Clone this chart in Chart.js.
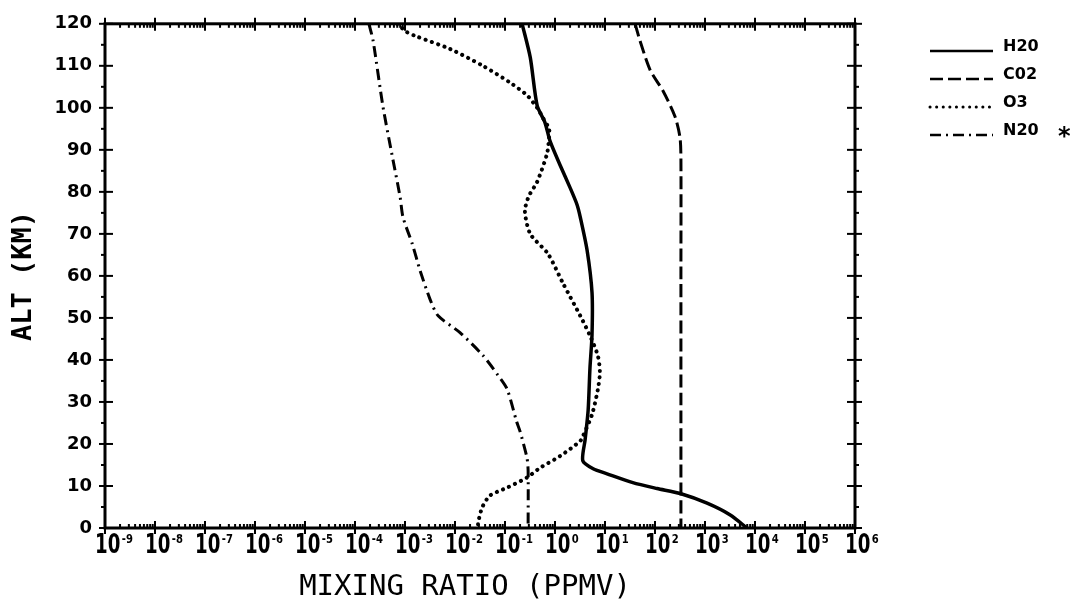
<!DOCTYPE html>
<html>
<head>
<meta charset="utf-8">
<script src="https://cdn.jsdelivr.net/npm/chart.js@4.4.0/dist/chart.umd.min.js"></script>
<style>
html,body{margin:0;padding:0;background:#fff;}
#wrap{width:1080px;height:606px;}
</style>
</head>
<body>
<div id="wrap"><canvas id="profileChart" width="1080" height="606"></canvas></div>
<script>
// altitude (km) and mixing ratio (ppmv)
var altH2O = [120, 112, 100.5, 96.5, 92, 86.4, 81, 77, 74, 66, 56, 46, 38, 28, 21, 16, 14.1, 12.9, 10.8, 9.4, 8.2, 5.9, 3.1, 0];
var h2o    = [0.22, 0.32, 0.44, 0.63, 0.8, 1.26, 2.0, 2.75, 3.2, 4.4, 5.5, 5.5, 5.0, 4.6, 4.0, 3.6, 5.8, 11, 36, 110, 320, 1100, 3200, 6900];

var altCO2 = [120, 116, 109, 104, 98, 93, 88, 60, 30, 10, 0];
var co2    = [40, 50, 80, 145, 250, 316, 330, 330, 330, 330, 330];

var altO3 = [120, 118, 117, 114, 110, 106, 103, 100, 97.5, 95, 92.8, 89, 82.4, 79, 75.4, 70, 65.3, 58.2, 50.5, 45.8, 41, 37, 33, 27, 21.8, 20.7, 17.1, 14.3, 12, 9.6, 7.7, 4.9, 1.2, 0];
var o3    = [0.0007, 0.0011, 0.0017, 0.008, 0.036, 0.126, 0.275, 0.44, 0.58, 0.76, 0.76, 0.69, 0.44, 0.3, 0.25, 0.32, 0.72, 1.45, 3.2, 5.0, 7.2, 7.9, 7.2, 5.5, 3.6, 3.2, 1.26, 0.5, 0.275, 0.11, 0.05, 0.035, 0.029, 0.029];

var altN2O = [120, 116, 100.5, 88.8, 78.7, 74, 67.6, 61.3, 54.3, 50.5, 46.5, 41.1, 36.4, 33.1, 25.4, 23, 16.7, 13.6, 0];
var n2o    = [0.00019, 0.00023, 0.00036, 0.00055, 0.0008, 0.00091, 0.0014, 0.002, 0.0032, 0.0046, 0.0126, 0.036, 0.072, 0.11, 0.17, 0.2, 0.275, 0.29, 0.29];

var seriesLabels = ['H20', 'C02', 'O3', 'N20'];
var xExpMin = -9, xExpMax = 6;
var yMin = 0, yMax = 120, yStep = 10;

function toPoints(alts, vals){
	return alts.map(function(a, i){ return {x: vals[i], y: a}; });
}

function drawTick(ctx, x1, y1, x2, y2){
	ctx.beginPath();
	ctx.moveTo(x1, y1);
	ctx.lineTo(x2, y2);
	ctx.stroke();
}

var framePlugin = {
	id: 'plotFrame',
	afterDraw: function(chart){
		var ctx = chart.ctx, area = chart.chartArea;
		var xs = chart.scales.x, ys = chart.scales.y;
		ctx.save();
		ctx.strokeStyle = '#000';
		ctx.fillStyle = '#000';
		ctx.lineWidth = 3;
		ctx.strokeRect(area.left, area.top, area.right - area.left, area.bottom - area.top);

		// log ticks on bottom and top, crossing the frame
		ctx.lineWidth = 2;
		for(var e = xExpMin; e <= xExpMax; e++){
			var px = xs.getPixelForValue(Math.pow(10, e));
			drawTick(ctx, px, area.bottom - 7, px, area.bottom + 6);
			drawTick(ctx, px, area.top - 6, px, area.top + 7);
			if(e < xExpMax){
				for(var m = 2; m <= 9; m++){
					var mx = xs.getPixelForValue(m * Math.pow(10, e));
					drawTick(ctx, mx, area.bottom - 4, mx, area.bottom);
					drawTick(ctx, mx, area.top, mx, area.top + 4);
				}
			}
		}
		// altitude ticks on left and right
		for(var v = yMin; v <= yMax; v += yStep){
			var py = ys.getPixelForValue(v);
			drawTick(ctx, area.left - 6, py, area.left + 8, py);
			drawTick(ctx, area.right - 8, py, area.right + 7, py);
			if(v < yMax){
				var my = ys.getPixelForValue(v + yStep / 2);
				drawTick(ctx, area.left - 4, my, area.left, my);
				drawTick(ctx, area.right, my, area.right + 4, my);
			}
		}

		// x tick labels 10^n
		ctx.textBaseline = 'alphabetic';
		ctx.textAlign = 'left';
		for(var k = xExpMin; k <= xExpMax; k++){
			var lx = xs.getPixelForValue(Math.pow(10, k)) - 10;
			ctx.save();
			ctx.translate(lx, 553);
			ctx.scale(0.7, 1);
			ctx.font = "bold 26px 'DejaVu Sans'";
			ctx.fillText('10', 0, 0);
			var w = ctx.measureText('10').width;
			ctx.font = "bold 13px 'DejaVu Sans'";
			ctx.scale(1.1, 1);
			ctx.fillText(k < 0 ? '-' + Math.abs(k) : String(k), w / 1.1 + 2, -10);
			ctx.restore();
		}

		// x axis title
		ctx.font = "29px 'DejaVu Sans Mono'";
		ctx.textAlign = 'center';
		ctx.textBaseline = 'middle';
		ctx.fillText('MIXING RATIO (PPMV)', 465, 587);

		// legend
		var rowY = [47, 75, 103, 131];
		chart.data.datasets.forEach(function(ds, i){
			var ly = rowY[i] + 4;
			ctx.save();
			ctx.lineWidth = ds.legendWidth;
			ctx.lineCap = ds.borderCapStyle || 'butt';
			ctx.setLineDash(ds.borderDash || []);
			drawTick(ctx, 930, ly, 993, ly);
			ctx.restore();
			ctx.font = "bold 16px 'DejaVu Sans'";
			ctx.textAlign = 'left';
			ctx.textBaseline = 'middle';
			ctx.fillText(ds.label, 1003, rowY[i]);
		});
		ctx.font = "bold 24px 'DejaVu Sans'";
		ctx.textBaseline = 'alphabetic';
		ctx.fillText('*', 1058, 144);
		ctx.restore();
	}
};

var baseLine = {borderColor: '#000', backgroundColor: '#000', pointRadius: 0, showLine: true, fill: false, tension: 0.25};

new Chart(document.getElementById('profileChart'), {
	type: 'scatter',
	data: {
		datasets: [
			Object.assign({}, baseLine, {label: seriesLabels[0], data: toPoints(altH2O, h2o), borderWidth: 3.5, legendWidth: 2.5}),
			Object.assign({}, baseLine, {label: seriesLabels[1], data: toPoints(altCO2, co2), borderWidth: 3, borderDash: [13, 5], legendWidth: 2.5}),
			Object.assign({}, baseLine, {label: seriesLabels[2], data: toPoints(altO3, o3), borderWidth: 4, borderDash: [0.1, 6.5], borderCapStyle: 'round', legendWidth: 3}),
			Object.assign({}, baseLine, {label: seriesLabels[3], data: toPoints(altN2O, n2o), borderWidth: 3, borderDash: [11, 5, 2, 5], legendWidth: 2.5})
		]
	},
	options: {
		responsive: false,
		devicePixelRatio: 1,
		animation: false,
		layout: {padding: {top: 17, right: 225, left: 0, bottom: 0}},
		plugins: {legend: {display: false}, tooltip: {enabled: false}},
		scales: {
			x: {
				type: 'logarithmic',
				min: Math.pow(10, xExpMin),
				max: Math.pow(10, xExpMax),
				grid: {display: false, drawTicks: false},
				border: {display: false},
				ticks: {display: false},
				afterFit: function(scale){ scale.height = 78; }
			},
			y: {
				min: yMin,
				max: yMax,
				grid: {display: false, drawTicks: false},
				border: {display: false},
				ticks: {stepSize: yStep, padding: 13, color: '#000', font: {family: 'DejaVu Sans', size: 18, weight: 'bold'}},
				title: {display: true, text: 'ALT (KM)', color: '#000', padding: {top: 10}, font: {family: 'DejaVu Sans Mono', size: 27, weight: 'bold', lineHeight: 1}},
				afterFit: function(scale){ scale.width = 105; }
			}
		}
	},
	plugins: [framePlugin]
});
</script>
</body>
</html>
